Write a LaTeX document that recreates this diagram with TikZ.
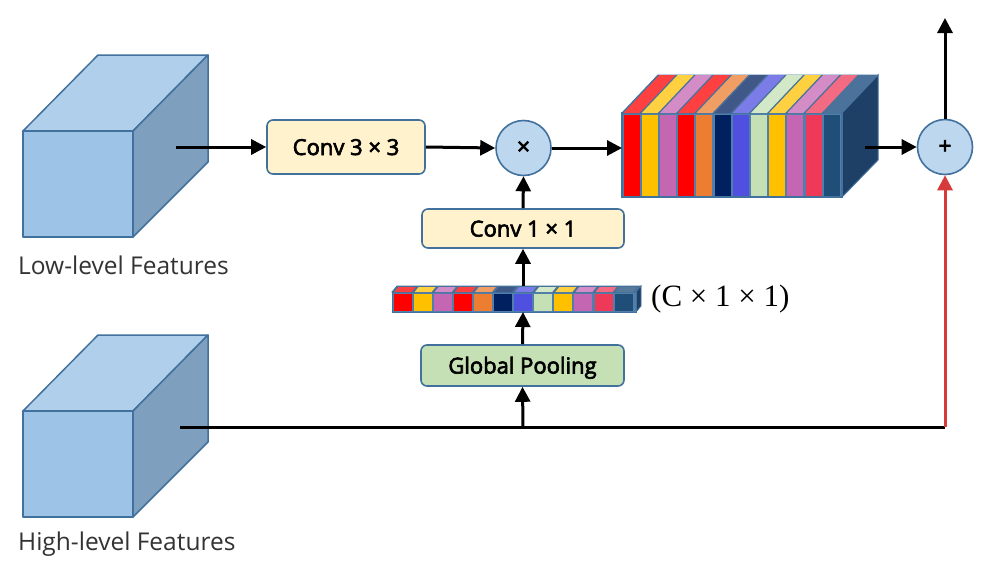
\documentclass[tikz,border=0pt]{standalone}
\usepackage{fontspec}
\setmainfont{Open Sans}
\newfontfamily\semib[FakeBold=3]{Open Sans}
\newfontfamily\serifz{Liberation Serif}
\usetikzlibrary{arrows.meta}
\definecolor{cubeF}{HTML}{9DC3E6}
\definecolor{cubeT}{HTML}{B0CFEB}
\definecolor{cubeS}{HTML}{7F9FBE}
\definecolor{edgeB}{HTML}{41719C}
\definecolor{convF}{HTML}{FFF2CC}
\definecolor{poolF}{HTML}{C5E0B4}
\definecolor{circF}{HTML}{BDD7EE}
\definecolor{redL}{HTML}{D63A3A}
\definecolor{cR}{HTML}{FF0000}
\definecolor{cY}{HTML}{FFC000}
\definecolor{cP}{HTML}{C566B2}
\definecolor{cO}{HTML}{ED7D31}
\definecolor{cN}{HTML}{002060}
\definecolor{cB}{HTML}{5050E0}
\definecolor{cG}{HTML}{C5E0B4}
\definecolor{cC}{HTML}{EE3A58}
\definecolor{cD}{HTML}{1F4E79}
\definecolor{blkS}{HTML}{1E3F66}
\definecolor{blkT}{HTML}{4A729A}
\definecolor{blkF}{HTML}{4F7FAA}
\begin{document}
\begin{tikzpicture}[x=1pt,y=-1pt,
  conn/.style={line width=3pt,-{Triangle[length=15pt,width=15pt]}},
  plain/.style={line width=3pt},
  boxz/.style={draw=edgeB,line width=1.6pt,rounded corners=6pt,fill=convF,
     font=\semib\fontsize{22}{24}\selectfont,inner sep=0pt,text height=16pt,text depth=0pt},
  circz/.style={circle,draw=edgeB,line width=1.6pt,fill=circF,minimum size=55pt,inner sep=0pt,
     font=\semib\fontsize{23}{24}\selectfont},
  cubeedge/.style={draw=edgeB,line width=1.5pt,line join=round},
  lbl/.style={font=\fontsize{24.5}{27}\selectfont,text=black!80,inner sep=0pt,anchor=base west}
]
\useasboundingbox (0,0) rectangle (981,562);
\fill[white] (0,0) rectangle (981,562);

% low-level cube
\draw[cubeedge,fill=cubeT] (23,131) -- (98,55) -- (208,55) -- (133,131) -- cycle;
\draw[cubeedge,fill=cubeS] (133,131) -- (208,55) -- (208,162) -- (133,237) -- cycle;
\draw[cubeedge,fill=cubeF] (23,131) rectangle (133,237);
\node[lbl] (lowlbl) at (18,274) {Low-level Features};

% high-level cube
\draw[cubeedge,fill=cubeT] (23,411) -- (98,335) -- (208,335) -- (133,411) -- cycle;
\draw[cubeedge,fill=cubeS] (133,411) -- (208,335) -- (208,442) -- (133,517) -- cycle;
\draw[cubeedge,fill=cubeF] (23,411) rectangle (133,517);
\node[lbl] (highlbl) at (18,550) {High-level Features};

% nodes
\node[boxz,minimum width=158pt,minimum height=54pt] (c33) at (346,147) {Conv 3 × 3};
\node[circz] (mul) at (523.5,148) {×};
\node[boxz,minimum width=202pt,minimum height=39pt] (c11) at (523,228.5) {Conv 1 × 1};
\node[boxz,fill=poolF,minimum width=203pt,minimum height=41pt] (gp) at (522.5,365.5) {Global Pooling};
\node[circz] (add) at (945,147) {+};

% big feature block
\fill[blkT,draw=edgeB,line width=1pt] (622,113) -- (658,75) -- (878,75) -- (842,113) -- cycle;
\fill[blkS,draw=edgeB,line width=1pt] (842,113) -- (878,75) -- (878,160) -- (842,197) -- cycle;
\fill[blkF,draw=edgeB,line width=1.2pt] (622,113) rectangle (842,197);
\foreach \c [count=\i from 0] in {cR,cY,cP,cR,cO,cN,cB,cG,cY,cP,cC,cD} {
  \pgfmathsetmacro{\xa}{623.5+18.2*\i}
  \pgfmathsetmacro{\xb}{\xa+16}
  \fill[\c] (\xa,115) rectangle (\xb,196);
  \fill[\c!75!white] (\xa,113) -- (\xb,113) -- (\xb+36,75) -- (\xa+36,75) -- cycle;
}
\fill[blkT] (823.5,113) -- (842,113) -- (878,75) -- (859.5,75) -- cycle;
\coordinate (bigL) at (622,148);
\coordinate (bigR) at (865,147);

% small vector bar
\fill[blkT,draw=edgeB,line width=0.8pt] (392,292) -- (397,286) -- (641,286) -- (636,292) -- cycle;
\fill[blkS,draw=edgeB,line width=0.8pt] (636,292) -- (641,286) -- (641,306) -- (636,312) -- cycle;
\fill[blkF,draw=edgeB,line width=1pt] (392,292) rectangle (636,312);
\foreach \c [count=\i from 0] in {cR,cY,cP,cR,cO,cN,cB,cG,cY,cP,cC,cD} {
  \pgfmathsetmacro{\xa}{393.5+20.1*\i}
  \pgfmathsetmacro{\xb}{\xa+18}
  \fill[\c] (\xa,293.5) rectangle (\xb,311);
  \fill[\c!75!white] (\xa+1,292) -- (\xb,292) -- (\xb+4,287) -- (\xa+5,287) -- cycle;
}
\coordinate (barB) at (523,312);
\coordinate (barT) at (523,286);
\node[font=\serifz\fontsize{31}{33}\selectfont,anchor=west,inner sep=0pt] (clbl) at (651,299) {(C × 1 × 1)};

% connectors
\coordinate (lowS) at (176,147);
\coordinate (highS) at (180,427);
\coordinate (branch) at (523,427);
\coordinate (corner) at (945,427);
\coordinate (outT) at (945,18);
\draw[conn] (lowS) -- (c33.west);
\draw[conn] (c33.east) -- (mul.west);
\draw[conn] (mul.east) -- (bigL);
\draw[conn] (bigR) -- (add.west);
\draw[conn] (add.north) -- (outT);
\draw[conn] (c11.north) -- (mul.south);
\draw[conn] (barT) -- (c11.south);
\draw[conn] (gp.north) -- (barB);
\draw[conn] (branch) -- (gp.south);
\draw[plain] (highS) -- (corner);
\draw[conn,draw=redL,fill=redL] (corner) -- (add.south);
\end{tikzpicture}
\end{document}
